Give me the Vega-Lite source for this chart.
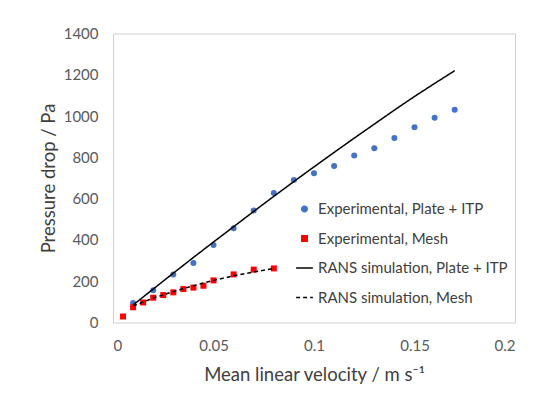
{
  "$schema": "https://vega.github.io/schema/vega-lite/v6.json",
  "width": 402,
  "height": 289,
  "autosize": {"type": "none"},
  "padding": {"left": 113, "top": 33.5, "right": 38, "bottom": 78.5},
  "background": "white",
  "config": {
    "view": {"stroke": "#d0d0d0", "strokeWidth": 1},
    "font": "Lato",
    "axis": {"grid": false, "domain": false, "ticks": false, "tickSize": 0, "labelFont": "Lato", "titleFont": "Lato", "labelColor": "#595959", "titleColor": "#404040", "labelFontSize": 15, "titleFontSize": 18.5, "titleFontWeight": "normal"},
    "legend": {"labelFont": "Lato", "labelFontSize": 15, "labelColor": "#404040", "labelLimit": 0}
  },
  "datasets": {
    "exp": [
      {"v": 0.01, "p": 94, "series": "Experimental, Plate + ITP"},
      {"v": 0.02, "p": 156, "series": "Experimental, Plate + ITP"},
      {"v": 0.03, "p": 233, "series": "Experimental, Plate + ITP"},
      {"v": 0.04, "p": 288, "series": "Experimental, Plate + ITP"},
      {"v": 0.05, "p": 376, "series": "Experimental, Plate + ITP"},
      {"v": 0.06, "p": 457, "series": "Experimental, Plate + ITP"},
      {"v": 0.07, "p": 543, "series": "Experimental, Plate + ITP"},
      {"v": 0.08, "p": 627, "series": "Experimental, Plate + ITP"},
      {"v": 0.09, "p": 690, "series": "Experimental, Plate + ITP"},
      {"v": 0.10, "p": 723, "series": "Experimental, Plate + ITP"},
      {"v": 0.11, "p": 758, "series": "Experimental, Plate + ITP"},
      {"v": 0.12, "p": 809, "series": "Experimental, Plate + ITP"},
      {"v": 0.13, "p": 844, "series": "Experimental, Plate + ITP"},
      {"v": 0.14, "p": 894, "series": "Experimental, Plate + ITP"},
      {"v": 0.15, "p": 946, "series": "Experimental, Plate + ITP"},
      {"v": 0.16, "p": 992, "series": "Experimental, Plate + ITP"},
      {"v": 0.17, "p": 1031, "series": "Experimental, Plate + ITP"},
      {"v": 0.005, "p": 29, "series": "Experimental, Mesh"},
      {"v": 0.01, "p": 74, "series": "Experimental, Mesh"},
      {"v": 0.015, "p": 97, "series": "Experimental, Mesh"},
      {"v": 0.02, "p": 120, "series": "Experimental, Mesh"},
      {"v": 0.025, "p": 133, "series": "Experimental, Mesh"},
      {"v": 0.03, "p": 146, "series": "Experimental, Mesh"},
      {"v": 0.035, "p": 162, "series": "Experimental, Mesh"},
      {"v": 0.04, "p": 169, "series": "Experimental, Mesh"},
      {"v": 0.045, "p": 178, "series": "Experimental, Mesh"},
      {"v": 0.05, "p": 204, "series": "Experimental, Mesh"},
      {"v": 0.06, "p": 233, "series": "Experimental, Mesh"},
      {"v": 0.07, "p": 256, "series": "Experimental, Mesh"},
      {"v": 0.08, "p": 262, "series": "Experimental, Mesh"}
    ],
    "sim": [
      {"v": 0.01, "p": 85, "series": "RANS simulation, Plate + ITP"},
      {"v": 0.02, "p": 162, "series": "RANS simulation, Plate + ITP"},
      {"v": 0.03, "p": 239, "series": "RANS simulation, Plate + ITP"},
      {"v": 0.04, "p": 315, "series": "RANS simulation, Plate + ITP"},
      {"v": 0.05, "p": 390, "series": "RANS simulation, Plate + ITP"},
      {"v": 0.06, "p": 464, "series": "RANS simulation, Plate + ITP"},
      {"v": 0.07, "p": 538, "series": "RANS simulation, Plate + ITP"},
      {"v": 0.08, "p": 611, "series": "RANS simulation, Plate + ITP"},
      {"v": 0.09, "p": 683, "series": "RANS simulation, Plate + ITP"},
      {"v": 0.10, "p": 754, "series": "RANS simulation, Plate + ITP"},
      {"v": 0.11, "p": 824, "series": "RANS simulation, Plate + ITP"},
      {"v": 0.12, "p": 893, "series": "RANS simulation, Plate + ITP"},
      {"v": 0.13, "p": 961, "series": "RANS simulation, Plate + ITP"},
      {"v": 0.14, "p": 1029, "series": "RANS simulation, Plate + ITP"},
      {"v": 0.15, "p": 1095, "series": "RANS simulation, Plate + ITP"},
      {"v": 0.16, "p": 1158, "series": "RANS simulation, Plate + ITP"},
      {"v": 0.17, "p": 1220, "series": "RANS simulation, Plate + ITP"},
      {"v": 0.01, "p": 80, "series": "RANS simulation, Mesh"},
      {"v": 0.02, "p": 118, "series": "RANS simulation, Mesh"},
      {"v": 0.03, "p": 150, "series": "RANS simulation, Mesh"},
      {"v": 0.04, "p": 178, "series": "RANS simulation, Mesh"},
      {"v": 0.05, "p": 204, "series": "RANS simulation, Mesh"},
      {"v": 0.06, "p": 226, "series": "RANS simulation, Mesh"},
      {"v": 0.07, "p": 245, "series": "RANS simulation, Mesh"},
      {"v": 0.08, "p": 262, "series": "RANS simulation, Mesh"}
    ]
  },
  "encoding": {
    "x": {"field": "v", "type": "quantitative", "scale": {"domain": [0, 0.2], "nice": false, "zero": true},
      "axis": {"values": [0, 0.05, 0.1, 0.15, 0.2], "format": "~g", "labelBaseline": "middle", "labelPadding": 23, "title": "Mean linear velocity / m s⁻¹", "titleX": 201, "titleY": 51.5, "titleBaseline": "middle", "titleAnchor": null}},
    "y": {"field": "p", "type": "quantitative", "scale": {"domain": [0, 1400], "nice": false},
      "axis": {"values": [0, 200, 400, 600, 800, 1000, 1200, 1400], "format": "d", "labelPadding": 15, "title": "Pressure drop / Pa", "titleX": -65, "titleY": 144.5, "titleAngle": -90, "titleBaseline": "middle", "titleAlign": "center"}},
    "color": {"field": "series", "type": "nominal",
      "scale": {"domain": ["Experimental, Plate + ITP", "Experimental, Mesh", "RANS simulation, Plate + ITP", "RANS simulation, Mesh"], "range": ["#4472C4", "#FF0000", "#000000", "#000000"]},
      "legend": {"title": null, "orient": "none", "legendX": 184, "legendY": 168, "rowPadding": 13.5, "labelOffset": 6, "symbolStrokeWidth": 1.5,
        "encode": {"symbols": {"update": {"size": {"signal": "indexof(['RANS simulation, Plate + ITP','RANS simulation, Mesh'], datum.value) >= 0 ? 280 : 30"}}}}}}
  },
  "layer": [
    {
      "data": {"name": "exp"},
      "mark": {"type": "point", "filled": true, "opacity": 1},
      "encoding": {
        "shape": {"field": "series", "type": "nominal", "scale": {"domain": ["Experimental, Plate + ITP", "Experimental, Mesh", "RANS simulation, Plate + ITP", "RANS simulation, Mesh"], "range": ["circle", "square", "stroke", "stroke"]}, "legend": null},
        "size": {"value": 36}
      }
    },
    {
      "data": {"name": "sim"},
      "mark": {"type": "line", "strokeWidth": 1.5},
      "encoding": {
        "strokeDash": {"field": "series", "type": "nominal", "scale": {"domain": ["Experimental, Plate + ITP", "Experimental, Mesh", "RANS simulation, Plate + ITP", "RANS simulation, Mesh"], "range": [[1, 0], [1, 0], [1, 0], [4, 3]]}, "legend": null}
      }
    }
  ]
}
